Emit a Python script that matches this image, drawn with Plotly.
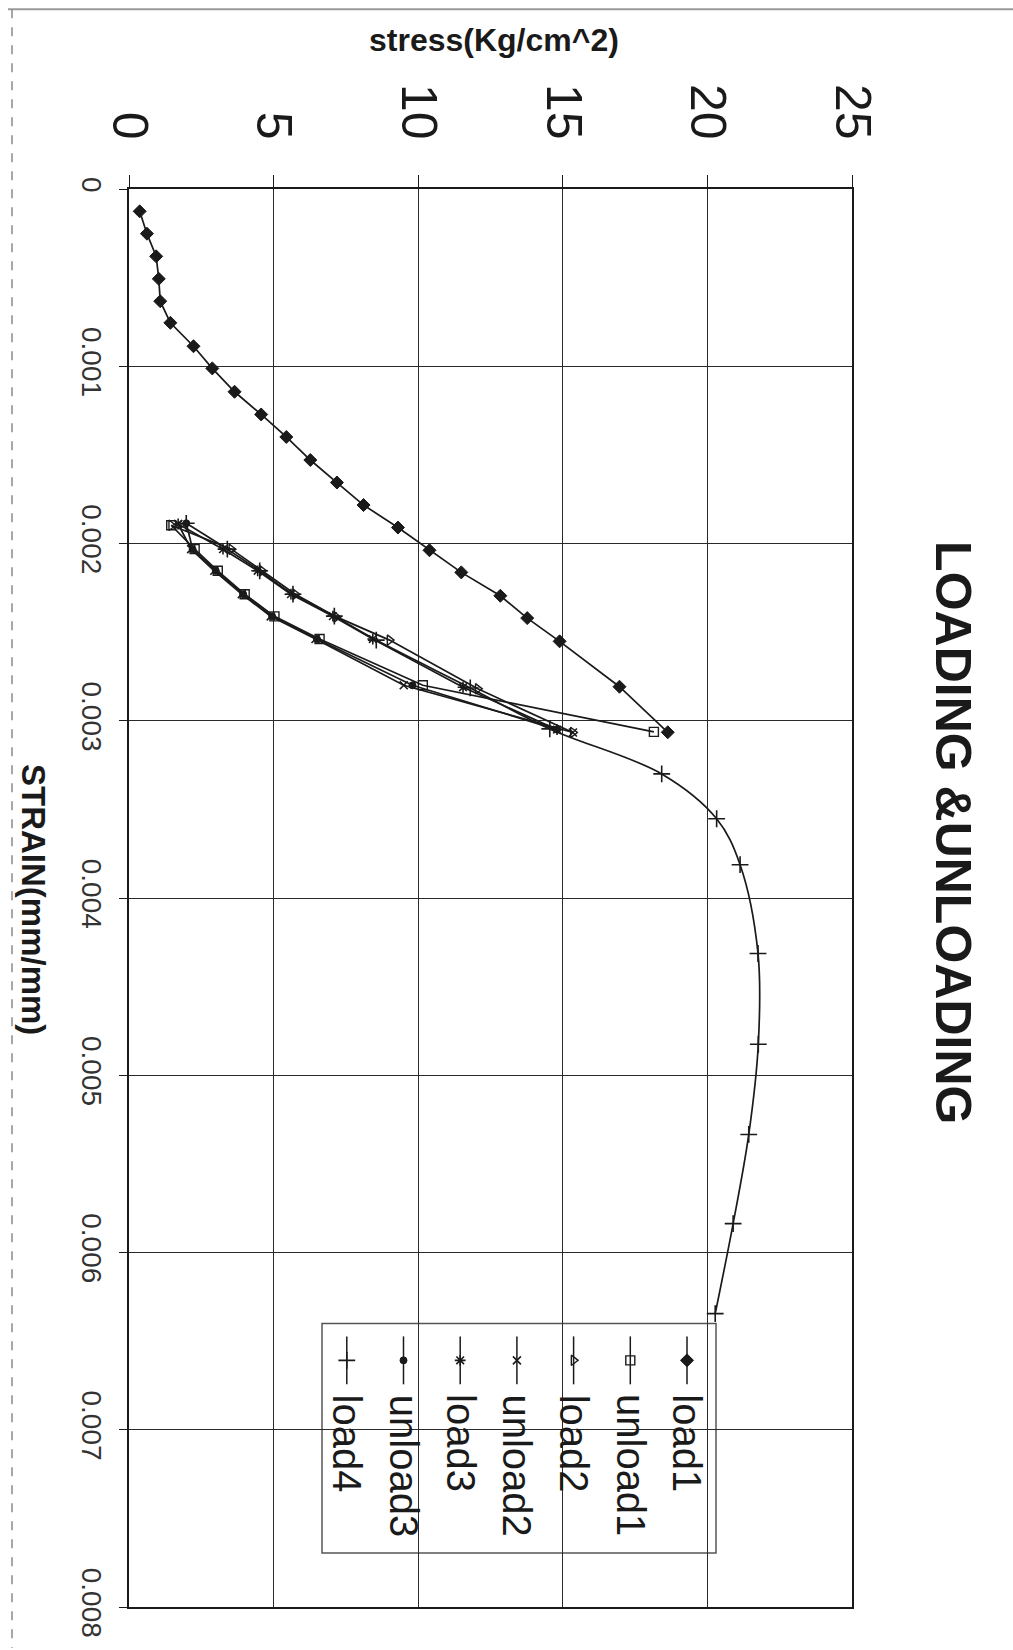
import plotly.graph_objects as go

# ---------------- data (stress in Kg/cm^2, strain in mm/mm) ----------------
load1_stress = [0.37, 0.62, 0.94, 1.03, 1.08, 1.43, 2.23, 2.88, 3.65, 4.57, 5.44, 6.27,
                7.19, 8.11, 9.30, 10.39, 11.49, 12.84, 13.77, 14.89, 16.96, 18.63]
load1_strain = [0.000126, 0.000252, 0.000380, 0.000507, 0.000633, 0.000755, 0.000887,
                0.001012, 0.001144, 0.001272, 0.001399, 0.001529, 0.001656, 0.001783,
                0.001910, 0.002038, 0.002163, 0.002295, 0.002421, 0.002552, 0.002808, 0.003065]

unload1_stress = [18.15, 10.16, 6.59, 5.03, 4.00, 3.07, 2.27, 1.46]
unload1_strain = [0.003063, 0.002800, 0.002539, 0.002411, 0.002286, 0.002154, 0.002032, 0.001897]

load2_stress = [1.46, 3.54, 4.60, 5.75, 7.17, 9.01, 12.06, 15.35]
load2_strain = [0.001897, 0.002032, 0.002154, 0.002286, 0.002414, 0.002545, 0.002820, 0.003066]

unload2_stress = [15.35, 9.50, 6.45, 4.90, 3.90, 2.95, 2.15, 1.70]
unload2_strain = [0.003066, 0.002800, 0.002539, 0.002411, 0.002286, 0.002154, 0.002032, 0.001890]

load3_stress = [1.70, 3.25, 4.45, 5.60, 7.05, 8.43, 11.55, 14.80]
load3_strain = [0.001890, 0.002032, 0.002154, 0.002286, 0.002410, 0.002539, 0.002811, 0.003050]

unload3_stress = [14.80, 9.80, 6.50, 4.95, 3.95, 3.00, 2.20, 1.98]
unload3_strain = [0.003050, 0.002800, 0.002539, 0.002411, 0.002286, 0.002154, 0.002032, 0.001886]

load4_stress = [1.98, 3.40, 4.52, 5.67, 7.10, 8.55, 11.80, 14.55, 18.42, 20.32, 21.13,
                21.75, 21.76, 21.43, 20.89, 20.27]
load4_strain = [0.001886, 0.002032, 0.002154, 0.002286, 0.002410, 0.002545, 0.002815,
                0.003046, 0.003300, 0.003553, 0.003812, 0.004313, 0.004825, 0.005334,
                0.005837, 0.006345]

series_names = ["load1", "unload1", "load2", "unload2", "load3", "unload3", "load4"]
stress_ticks = [0, 5, 10, 15, 20, 25]
strain_ticks = [0, 0.001, 0.002, 0.003, 0.004, 0.005, 0.006, 0.007, 0.008]
strain_tick_text = ["0", "0.001", "0.002", "0.003", "0.004", "0.005", "0.006", "0.007", "0.008"]

title_text = "LOADING &UNLOADING"
x_title = "stress(Kg/cm^2)"
y_title = "STRAIN(mm/mm)"

# ---------------- styles ----------------
FONT = "Arial, 'Liberation Sans', sans-serif"
INK = "#1a1a1a"
styles = {
    "load1":   dict(symbol="diamond", size=10, color=INK, line=dict(color=INK, width=1)),
    "unload1": dict(symbol="square-open", size=9, color=INK, line=dict(color=INK, width=1.4)),
    "load2":   dict(symbol="triangle-right-open", size=9, color=INK, line=dict(color=INK, width=1.4)),
    "unload2": dict(symbol="x-thin-open", size=8, color=INK, line=dict(color=INK, width=1.6)),
    "load3":   dict(symbol="asterisk-open", size=9, color=INK, line=dict(color=INK, width=1.6)),
    "unload3": dict(symbol="circle", size=7, color=INK, line=dict(color=INK, width=1)),
    "load4":   dict(symbol="cross-thin-open", size=12, color=INK, line=dict(color=INK, width=1.6)),
}
series = {
    "load1": (load1_stress, load1_strain),
    "unload1": (unload1_stress, unload1_strain),
    "load2": (load2_stress, load2_strain),
    "unload2": (unload2_stress, unload2_strain),
    "load3": (load3_stress, load3_strain),
    "unload3": (unload3_stress, unload3_strain),
    "load4": (load4_stress, load4_strain),
}

fig = go.Figure()
for name in series_names:
    xs, ys = series[name]
    fig.add_trace(go.Scatter(
        x=xs, y=ys, name=name, mode="lines+markers",
        line=dict(color=INK, width=1.7, shape="spline" if name == "load4" else "linear"),
        marker=styles[name], showlegend=False, cliponaxis=False,
    ))

# ---------------- geometry ----------------
W, H = 1013, 1650
L, R, T, B = 129, 161, 189, 41
PW, PH = W - L - R, H - T - B

def px(xp):
    return (xp - L) / PW

def py(yp):
    return (H - B - yp) / PH

# ---------------- manual rotated legend ----------------
shapes = []
annotations = []
box = dict(x0=px(322), x1=px(716), y0=py(1555), y1=py(1325))
shapes.append(dict(type="rect", xref="paper", yref="paper", **box,
                   fillcolor="white", line=dict(color="#555", width=1.5), layer="between"))
leg_x = [px(687 - i * 56.7) for i in range(len(series_names))]
leg_marker_y = py(1362)
for i, name in enumerate(series_names):
    shapes.append(dict(type="line", xref="paper", yref="paper", x0=leg_x[i], x1=leg_x[i],
                       y0=py(1338), y1=py(1386), line=dict(color=INK, width=1.5), layer="between"))
    annotations.append(dict(text=name, xref="paper", yref="paper", x=leg_x[i], y=py(1394),
                            xanchor="center", yanchor="top", textangle=90, showarrow=False,
                            font=dict(family=FONT, size=40, color=INK)))
for i, name in enumerate(series_names):
    fig.add_trace(go.Scatter(x=[leg_x[i]], y=[leg_marker_y], xaxis="x2", yaxis="y2",
                             mode="markers", marker=styles[name], showlegend=False,
                             hoverinfo="skip", cliponaxis=False))

# page border lines of the scan
shapes.append(dict(type="line", xref="paper", yref="paper", x0=px(8), x1=px(1013),
                   y0=py(9), y1=py(9), line=dict(color="#9a9a9a", width=2)))
shapes.append(dict(type="line", xref="paper", yref="paper", x0=px(12), x1=px(12),
                   y0=py(9), y1=py(1650), line=dict(color="#8a8a8a", width=1.5, dash="dash")))

# titles
annotations.append(dict(text="<b>%s</b>" % x_title, xref="paper", yref="paper",
                        x=px(494), y=py(40), xanchor="center", yanchor="middle",
                        showarrow=False, font=dict(family=FONT, size=32, color=INK)))
annotations.append(dict(text="<b>%s</b>" % y_title, xref="paper", yref="paper",
                        x=px(33), y=py(900), xanchor="center", yanchor="middle",
                        textangle=90, showarrow=False, font=dict(family=FONT, size=33, color=INK)))
annotations.append(dict(text="<b>%s</b>" % title_text, xref="paper", yref="paper",
                        x=px(953), y=py(833), xanchor="center", yanchor="middle",
                        textangle=90, showarrow=False, font=dict(family=FONT, size=50, color=INK)))

fig.update_layout(
    width=W, height=H, autosize=False,
    margin=dict(l=L, r=R, t=T, b=B, pad=0),
    paper_bgcolor="white", plot_bgcolor="white",
    font=dict(family=FONT, color=INK),
    showlegend=False,
    xaxis=dict(range=[0, 25], tickvals=stress_ticks, side="top", tickangle=90,
               tickfont=dict(size=50, color=INK), showgrid=True, gridcolor="#2a2a2a",
               gridwidth=1.3, zeroline=False, showline=True, linecolor=INK, linewidth=1.8,
               mirror=True, ticks="outside", ticklen=12, tickcolor=INK, tickwidth=1.4,
               ticklabelstandoff=18),
    yaxis=dict(range=[0.008, 0], tickvals=strain_ticks, ticktext=strain_tick_text,
               tickangle=90, tickfont=dict(size=28, color="#333"), showgrid=True,
               gridcolor="#2a2a2a", gridwidth=1.3, zeroline=False, showline=True,
               linecolor=INK, linewidth=1.8, mirror=True, ticks="outside", ticklen=8,
               tickcolor=INK, tickwidth=1.4, ticklabelstandoff=3),
    xaxis2=dict(range=[0, 1], overlaying="x", visible=False, anchor="y2"),
    yaxis2=dict(range=[0, 1], overlaying="y", visible=False, anchor="x2"),
    shapes=shapes,
    annotations=annotations,
)

fig.write_html("out.html")
